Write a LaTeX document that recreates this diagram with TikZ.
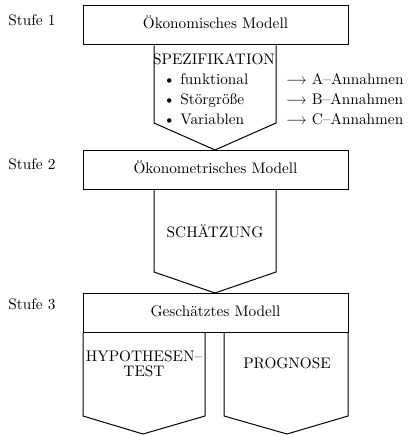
\documentclass[tikz,border=0pt]{standalone}
\begin{document}
\begin{tikzpicture}[x=1pt,y=-1pt,
  txt/.style={inner sep=0pt,font=\fontsize{10pt}{12pt}\selectfont,scale=1.53,transform shape},
  box/.style={draw,line width=1pt,minimum width=265pt,minimum height=39pt,inner sep=0pt},
  pent/.style={draw,line width=1pt,line join=miter}]
\newcommand{\annarrow}{\scalebox{0.82}[1]{$\longrightarrow$}\hspace{3.5pt}}
\useasboundingbox (0,0) rectangle (408,435);
% Stufe labels
\node[txt,anchor=mid west] (s1) at (8,22) {Stufe 1};
\node[txt,anchor=mid west] (s2) at (8,166) {Stufe 2};
\node[txt,anchor=mid west] (s3) at (8,306) {Stufe 3};
% boxes
\node[box] (b1) at (215.5,25.5) {};
\node[box] (b2) at (215.5,170) {};
\node[box] (b3) at (215.5,313) {};
\node[txt,anchor=mid] (t1) at (b1) {Ökonomisches Modell};
\node[txt,anchor=mid] (t2) at (b2) {Ökonometrisches Modell};
\node[txt,anchor=mid] (t3) at (b3) {Geschätztes Modell};
% pentagon 1
\coordinate (p1a) at (154,123); \coordinate (p1b) at (215,150); \coordinate (p1c) at (276,123);
\draw[pent] (b1.south -| p1a) -- (p1a) -- (p1b) -- (p1c) -- (b1.south -| p1c);
\node[txt,anchor=mid] (spec) at (214,61) {SPEZIFIKATION};
\node[txt,anchor=mid west] (i1) at (163,81) {\textbullet\ funktional};
\node[txt,anchor=mid west] (i2) at (163,101) {\textbullet\ Störgröße};
\node[txt,anchor=mid west] (i3) at (163,121) {\textbullet\ Variablen};
\node[txt,anchor=mid west] (a1) at (286,81) {\annarrow A--Annahmen};
\node[txt,anchor=mid west] (a2) at (286,101) {\annarrow B--Annahmen};
\node[txt,anchor=mid west] (a3) at (286,121) {\annarrow C--Annahmen};
% pentagon 2
\coordinate (p2a) at (154,272); \coordinate (p2b) at (215,293); \coordinate (p2c) at (276,272);
\draw[pent] (b2.south -| p2a) -- (p2a) -- (p2b) -- (p2c) -- (b2.south -| p2c);
\node[txt,anchor=mid] (sch) at (215,234) {SCHÄTZUNG};
% pentagons 3
\coordinate (pLa) at (83,416); \coordinate (pLb) at (143,434); \coordinate (pLc) at (205,416);
\draw[pent] (b3.south -| pLa) -- (pLa) -- (pLb) -- (pLc) -- (b3.south -| pLc);
\coordinate (pRa) at (224,416); \coordinate (pRb) at (287,434); \coordinate (pRc) at (348,416);
\draw[pent] (b3.south -| pRa) -- (pRa) -- (pRb) -- (pRc) -- (b3.south -| pRc);
\node[txt,align=center,font=\fontsize{10pt}{9.6pt}\selectfont] (hyp) at (144,364) {HYPOTHESEN--\\TEST};
\node[txt,anchor=mid] (prog) at (287,365) {PROGNOSE};
\end{tikzpicture}
\end{document}
